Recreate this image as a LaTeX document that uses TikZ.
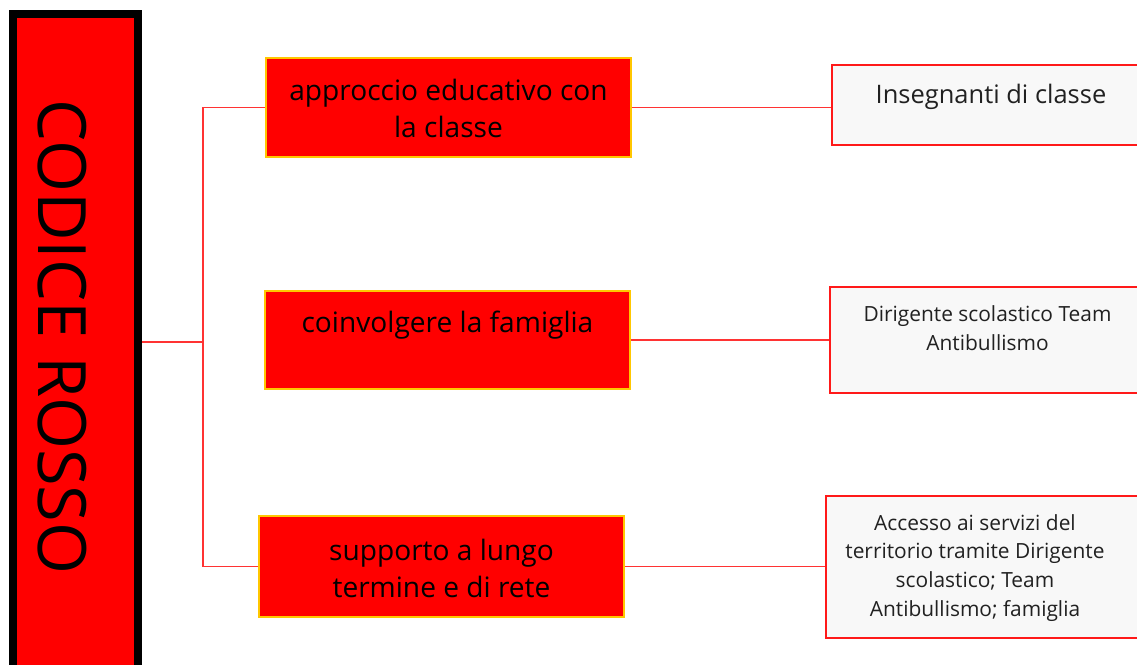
\documentclass[tikz,border=0pt]{standalone}
\usepackage{fontspec}
\setmainfont{Open Sans}
\usepackage{tikz}
\usetikzlibrary{positioning}

\begin{document}
\begin{tikzpicture}[x=0.02cm,y=-0.02cm,
  rootbox/.style={draw=croot,fill=cfroot,line width=4.5pt,minimum width=2.5cm,minimum height=13.72cm},
  midbox/.style={draw=cmid,fill=cfmid,line width=1.1pt,minimum width=7.3cm},
  leafbox/.style={draw=cleaf,fill=cfleaf,line width=1.3pt},
  midtext/.style={inner sep=0pt,align=center,text=black,font=\fontsize{16}{21}\selectfont},
  leaftext/.style={inner sep=0pt,align=center,text=ctl},
  link/.style={draw=clink,line width=1pt}]
%
\useasboundingbox (0,0) rectangle (1137,664);
\clip (0,0) rectangle (1137,664);
%
\definecolor{croot}{rgb}{0.0,0.0,0.0}
\definecolor{cfroot}{rgb}{1.0,0.0,0.0}
\definecolor{cmid}{rgb}{1.0,0.78,0.0}
\definecolor{cfmid}{rgb}{1.0,0.0,0.0}
\definecolor{cleaf}{rgb}{1.0,0.1,0.1}
\definecolor{cfleaf}{rgb}{0.973,0.973,0.973}
\definecolor{ctl}{rgb}{0.13,0.13,0.13}
\definecolor{clink}{rgb}{1.0,0.2,0.2}
%
\node[rootbox] (root) at (75.5,357) {};
\node[rotate=-90,inner sep=0pt,font=\fontsize{38}{40}\selectfont] (title) at (62,337) {CODICE ROSSO};
%
\node[midbox,minimum height=1.98cm] (m1) at (448.5,107.5) {};
\node[midbox,minimum height=1.96cm] (m2) at (447.5,340) {};
\node[midbox,minimum height=2.02cm] (m3) at (441.5,566.5) {};
\node[midtext,anchor=south] (t1) at (448.5,138) {approccio educativo con\\la classe};
\node[midtext,anchor=base] (t2) at (447.5,332) {coinvolgere la famiglia};
\node[midtext,anchor=south] (t3) at (441.5,598) {supporto a lungo\\termine e di rete};
%
\node[leafbox,minimum width=6.36cm,minimum height=1.6cm] (l1) at (991,105) {};
\node[leafbox,minimum width=6.4cm,minimum height=2.12cm] (l2) at (990,340) {};
\node[leafbox,minimum width=6.48cm,minimum height=2.84cm] (l3) at (988,567) {};
\node[leaftext,anchor=base,font=\fontsize{14.5}{18}\selectfont] (s1) at (991,103) {Insegnanti di classe};
\node[leaftext,anchor=south,font=\fontsize{11.9}{16.3}\selectfont] (s2) at (987.5,351) {Dirigente scolastico Team\\Antibullismo};
\node[leaftext,anchor=north,font=\fontsize{11.9}{16.3}\selectfont] (s3) at (975,514) {Accesso ai servizi del\\territorio tramite Dirigente\\scolastico; Team\\Antibullismo; famiglia};
%
\coordinate (j0) at (203,342);
\draw[link] (root.east |- j0) -- (j0);
\draw[link] (m1.west) -| (j0) |- (m3.west);
\draw[link] (m1.east) -- (m1.east -| l1.west);
\draw[link] (m2.east) -- (m2.east -| l2.west);
\draw[link] (m3.east) -- (m3.east -| l3.west);
%
\end{tikzpicture}
\end{document}
